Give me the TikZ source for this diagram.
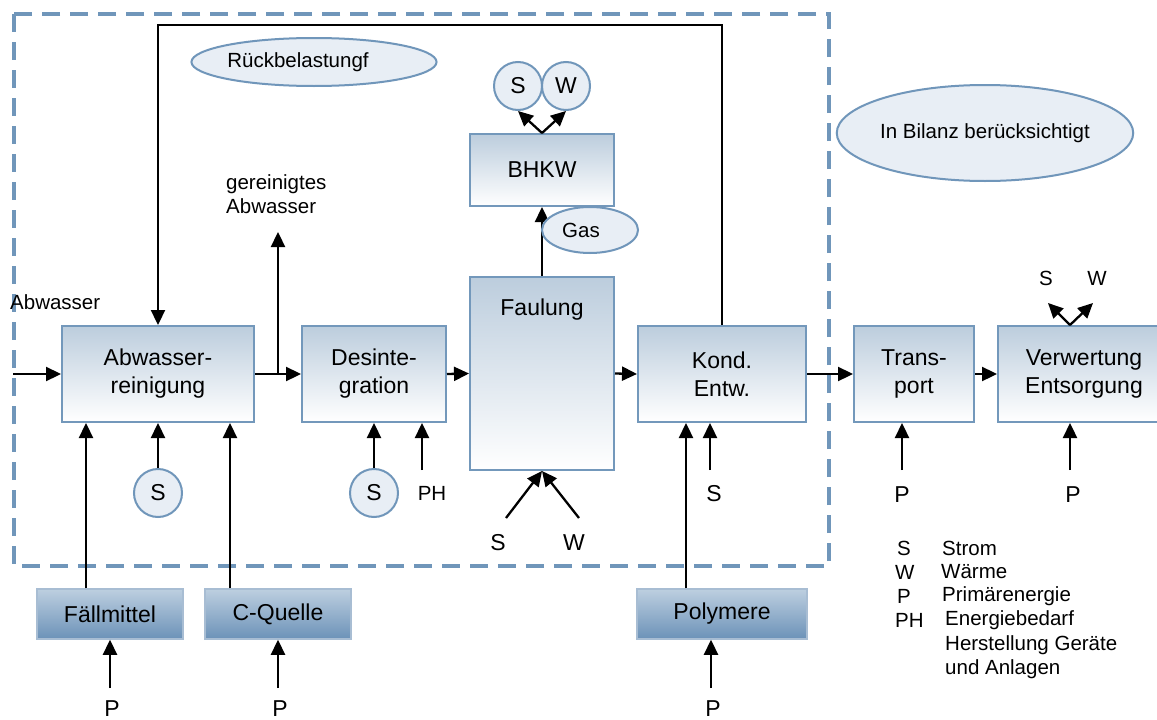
\documentclass[tikz,border=0pt]{standalone}
\usepackage{fontspec}
\setmainfont{Liberation Sans}
\usetikzlibrary{shapes.geometric,arrows.meta}
\definecolor{boxline}{HTML}{7398BB}
\definecolor{boxtop}{HTML}{BCCDDD}
\definecolor{boxmid}{HTML}{D3DEE9}
\definecolor{frameblue}{HTML}{7096BA}
\definecolor{ovfill}{HTML}{E8EEF5}
\definecolor{ovline}{HTML}{7096BA}
\definecolor{sbtop}{HTML}{BDCFE0}
\definecolor{sbbot}{HTML}{6C92B8}
\definecolor{sbline}{HTML}{A8BDD3}
\newcommand\myBig{\fontsize{23}{28}\selectfont}
\newcommand\mySmall{\fontsize{20.5}{23.5}\selectfont}
\tikzset{
  proc/.style={draw=boxline, line width=2pt, top color=boxtop, middle color=boxmid, bottom color=white,
    align=center, font=\myBig, inner sep=0pt},
  supply/.style={draw=sbline, line width=1.5pt, top color=sbtop, bottom color=sbbot,
    align=center, font=\myBig, inner sep=0pt, minimum height=50pt},
  ring/.style={circle, draw=ovline, line width=2pt, fill=ovfill, minimum size=48pt, inner sep=0pt, font=\myBig},
  oval/.style={ellipse, draw=ovline, line width=2pt, fill=ovfill, inner sep=0pt, font=\mySmall},
  arr/.style={line width=2.3pt, -{Triangle[length=15pt,width=14pt]}},
  big/.style={font=\myBig, inner sep=0pt},
  small/.style={font=\mySmall, inner sep=0pt},
}
\begin{document}
\begin{tikzpicture}[x=1pt,y=-1pt]
\useasboundingbox (0,0) rectangle (1157,720);
\clip (0,0) rectangle (1157,720);
\fill[white] (0,0) rectangle (1157,720);
% system boundary
\draw[frameblue, line width=4pt, dash pattern=on 18pt off 10pt] (14,14) rectangle (829,566);

% process boxes
\node[proc, minimum width=192pt, minimum height=96pt] (ab) at (158,374) {Abwasser-\\reinigung};
\node[proc, minimum width=144pt, minimum height=96pt] (des) at (374,374) {Desinte-\\gration};
\node[proc, minimum width=144pt, minimum height=193pt,
      label={[font=\myBig, anchor=center, yshift=-34pt]north:Faulung}] (fau) at (542,373.5) {};
\node[proc, minimum width=168pt, minimum height=96pt] (kond) at (722,374) {Kond.\\Entw.};
\node[proc, minimum width=120pt, minimum height=96pt] (trans) at (914,374) {Trans-\\port};
\node[proc, minimum width=172pt, minimum height=96pt] (verw) at (1084,374) {Verwertung\\Entsorgung};
\node[proc, minimum width=144pt, minimum height=72pt] (bhkw) at (542,170) {BHKW};

% supply boxes
\node[supply, minimum width=146pt] (fall) at (110,614) {Fällmittel};
\node[supply, minimum width=146pt] (cq) at (278,614) {C-Quelle};
\node[supply, minimum width=170pt] (poly) at (722,614) {Polymere};

% energy circles
\node[ring] (cs) at (518,86) {S};
\node[ring] (cw) at (566,86) {W};
\node[ring] (s2) at (158,493) {S};
\node[ring] (s3) at (374,493) {S};

% coordinates
\coordinate (inS) at (13,374);
\coordinate (br) at (278,374);
\coordinate (gaT) at (278,232);
\coordinate (tr) at (722,25);
\coordinate (tl) at (158,25);
\coordinate (ph) at (422,470);
\coordinate (fs) at (506,518);
\coordinate (fw) at (579,518);
\coordinate (ks) at (710,470);
\coordinate (tp) at (902,470);
\coordinate (vp) at (1070,470);
\coordinate (vs) at (1048,303);
\coordinate (vw) at (1093,303);
\coordinate (fp) at (110,688);
\coordinate (cp) at (278,688);
\coordinate (pp) at (711,688);

% main flow
\draw[arr] (inS) -- (ab.west);
\draw[arr] (ab.east) -- (des.west);
\draw[arr] (br) -- (gaT);
\draw[arr] (des.east) -- (fau.west);
\draw[arr] (fau.east) -- (kond.west);
\draw[arr] (kond.east) -- (trans.west);
\draw[arr] (trans.east) -- (verw.west);
\draw[arr] (kond.north) -- (tr) -- (tl) -- (ab.north);
\draw[arr] (fau.north) -- (bhkw.south);
\draw[arr] (bhkw.north) -- (cs.south);
\draw[arr] (bhkw.north) -- (cw.south);

% inputs
\draw[arr] ([xshift=-24pt]fall.north) -- ([xshift=-72pt]ab.south);
\draw[arr] ([xshift=-48pt]cq.north) -- ([xshift=72pt]ab.south);
\draw[arr] (s2.north) -- (ab.south);
\draw[arr] (s3.north) -- (des.south);
\draw[arr] (ph) -- (ph |- des.south);
\draw[arr] (fs) -- (fau.south);
\draw[arr] (fw) -- (fau.south);
\draw[arr] ([xshift=-36pt]poly.north) -- ([xshift=-36pt]kond.south);
\draw[arr] (ks) -- (ks |- kond.south);
\draw[arr] (tp) -- (tp |- trans.south);
\draw[arr] (vp) -- (vp |- verw.south);
\draw[arr] (vp |- verw.north) -- (vs);
\draw[arr] (vp |- verw.north) -- (vw);
\draw[arr] (fp) -- (fall.south);
\draw[arr] (cp) -- (cq.south);
\draw[arr] (pp) -- (pp |- poly.south);

% ovals
\node[oval, minimum width=216pt, minimum height=48pt] (rueck) at (314,62) {Rückbelastungf\hspace*{32pt}};
\node[oval, minimum width=264pt, minimum height=96pt] (bil) at (985,133) {In Bilanz berücksichtigt};
\node[oval, minimum width=96pt, minimum height=46pt] (gas) at (590,230) {Gas\hspace*{18pt}};

% texts
\node[small, anchor=west, align=left] (gaw) at (226,194) {gereinigtes\\Abwasser};
\node[small, anchor=west] (abw) at (10,302) {Abwasser};
\node[small] (lph) at (432,493) {PH};
\node[big] (lfs) at (498,543) {S};
\node[big] (lfw) at (574,543) {W};
\node[big] (lks) at (714,494) {S};
\node[big] (ltp) at (902,495) {P};
\node[big] (lvp) at (1073,495) {P};
\node[small] (lvs) at (1046,278) {S};
\node[small] (lvw) at (1097,278) {W};
\node[big] (lfp) at (112,709) {P};
\node[big] (lcp) at (280,709) {P};
\node[big] (lpp) at (713,709) {P};

% legend
\node[small, anchor=west] (k1) at (897,548) {S};
\node[small, anchor=west] (d1) at (942,548) {Strom};
\node[small, anchor=west] (k2) at (895,572) {W};
\node[small, anchor=west] (d2) at (941,572) {Wärme};
\node[small, anchor=west] (k3) at (897,596) {P};
\node[small, anchor=west] (d3) at (942,596) {Primärenergie};
\node[small, anchor=west] (k4) at (895,620) {PH};
\node[small, anchor=west] (d4) at (945,620) {Energiebedarf};
\node[small, anchor=west] (d5) at (945,645) {Herstellung Geräte};
\node[small, anchor=west] (d6) at (945,669) {und Anlagen};
\end{tikzpicture}
\end{document}
